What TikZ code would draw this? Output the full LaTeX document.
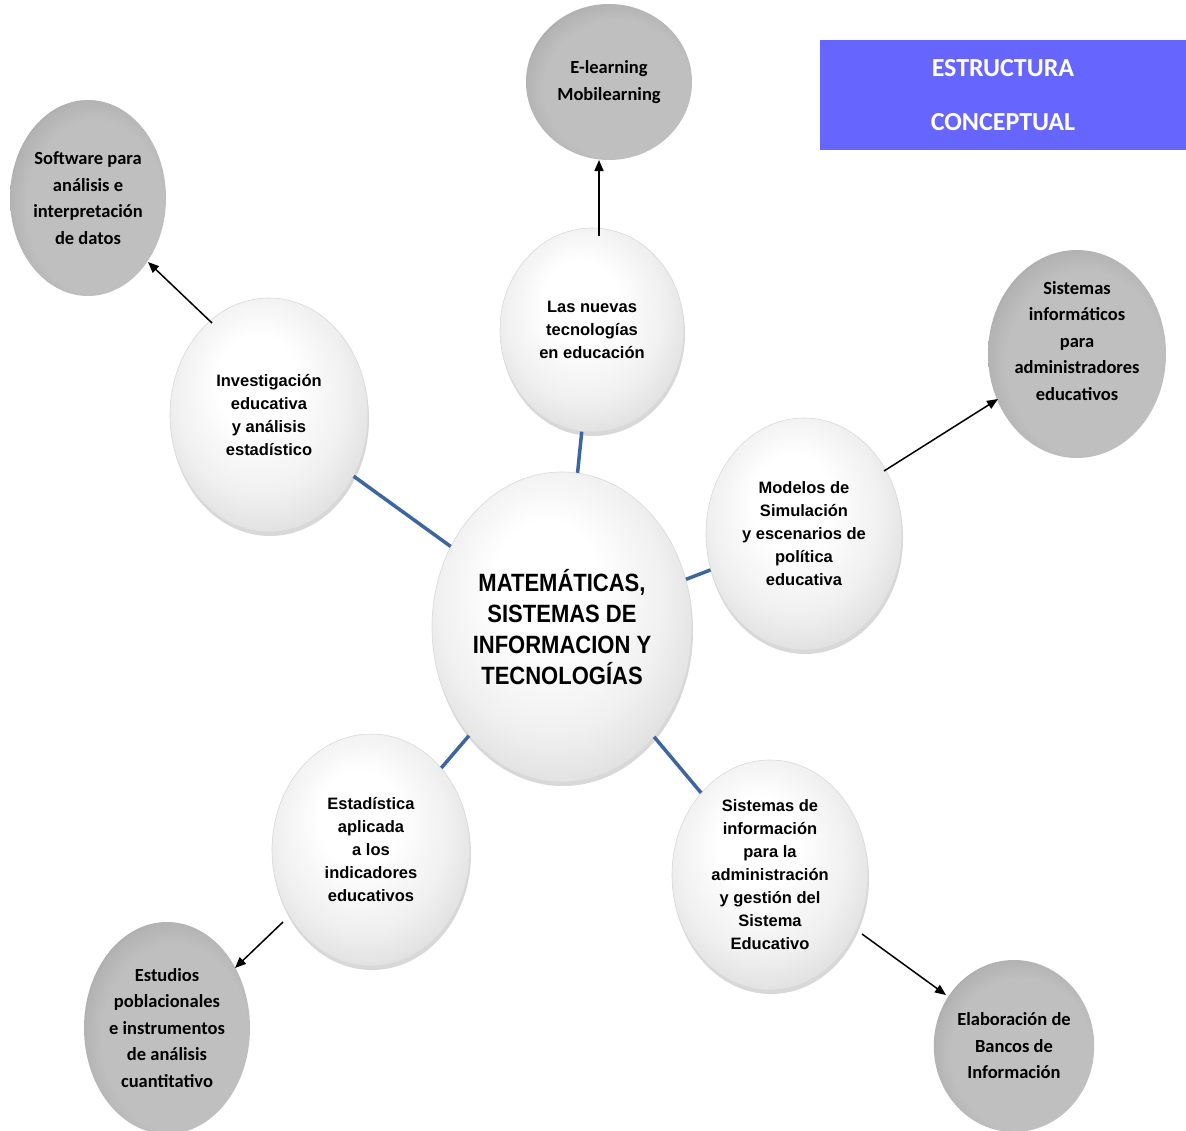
\documentclass[tikz,border=0pt]{standalone}
\usepackage{fontspec}
\setmainfont{Liberation Sans}
\newfontfamily\condfont[FakeStretch=0.88]{Liberation Sans}
\newfontfamily\calfont{Carlito}
\usetikzlibrary{shapes.geometric,shadows,arrows.meta,calc}
\definecolor{linkblue}{HTML}{3D66A0}
\definecolor{titleblue}{HTML}{6666FF}
\pgfdeclareradialshading{whiteball}{\pgfpoint{-4bp}{9bp}}{color(0bp)=(white); color(10bp)=(white); color(22bp)=(black!6); color(29bp)=(black!12); color(34bp)=(black!22); color(45bp)=(black!22)}
\pgfdeclareradialshading{greyball}{\pgfpoint{5bp}{-5bp}}{color(0bp)=(black!25); color(22bp)=(black!25); color(27bp)=(black!30); color(31bp)=(black!48); color(42bp)=(black!52)}
\tikzset{
  wnode/.style={ellipse, shade, shading=whiteball, draw=black!15, line width=0.6pt,
    drop shadow={opacity=0.3, shadow xshift=1pt, shadow yshift=-4pt},
    align=center, inner sep=0pt, font=\fontsize{16.5}{23}\selectfont\bfseries},
  gnode/.style={ellipse, shade, shading=greyball, align=center, inner sep=0pt,
    font=\calfont\fontsize{18.5}{26.5}\selectfont\bfseries},
  link/.style={draw=linkblue, line width=3.5pt},
  arr/.style={draw=black, line width=1.5pt, -{Triangle[length=11pt,width=9pt]}},
}
\begin{document}
\begin{tikzpicture}[x=1pt, y=-1pt]
\fill[white] (0,0) rectangle (1186,1130);
\useasboundingbox (0,0) rectangle (1186,1130);

\node[fill=titleblue, minimum width=366pt, minimum height=110pt, inner sep=0pt, text=white,
  font=\calfont\fontsize{26}{54}\selectfont\bfseries, align=center] (title) at (1003,95) {ESTRUCTURA\\CONCEPTUAL};

\node[wnode, minimum width=260pt, minimum height=310pt, font=\condfont\fontsize{25}{31}\selectfont\bfseries] (core) at (562,627) {MATEMÁTICAS,\\SISTEMAS DE\\INFORMACION Y\\TECNOLOGÍAS};
\node[wnode, minimum width=184pt, minimum height=204pt] (nuevas) at (592,330) {Las nuevas\\tecnologías\\en educación};
\node[wnode, minimum width=198pt, minimum height=234pt] (inv) at (269,415) {Investigación\\educativa\\y análisis\\estadístico};
\node[wnode, minimum width=196pt, minimum height=232pt] (model) at (804,534) {Modelos de\\Simulación\\y escenarios de\\política\\educativa};
\node[wnode, minimum width=198pt, minimum height=232pt] (estad) at (371,850) {Estadística\\aplicada\\a los\\indicadores\\educativos};
\node[wnode, minimum width=196pt, minimum height=230pt] (sinfo) at (770,875) {Sistemas de\\información\\para la\\administración\\y gestión del\\Sistema\\Educativo};

\node[gnode, minimum width=166pt, minimum height=156pt] (elearn) at (609,82) {E-learning\\Mobilearning};
\node[gnode, minimum width=156pt, minimum height=196pt] (soft) at (88,198) {Software para\\análisis e\\interpretación\\de datos};
\node[gnode, minimum width=178pt, minimum height=208pt] (sisinf) at (1077,354) {Sistemas\\informáticos\\para\\administradores\\educativos\\\mbox{}};
\node[gnode, minimum width=166pt, minimum height=212pt] (estud) at (167,1028) {Estudios\\poblacionales\\e instrumentos\\de análisis\\cuantitativo};
\node[gnode, minimum width=156pt, minimum height=172pt] (elab) at (1014,1046) {Elaboración de\\Bancos de\\Información};

\draw[link] (core) -- (nuevas);
\draw[link] (core) -- (inv);
\draw[link] (core) -- (model);
\draw[link] (core) -- (estad);
\draw[link] (core) -- (sinfo);

\draw[arr] ($(nuevas.center)+(7,-94)$) -- ($(elearn.center)+(-10,78)$);
\draw[arr] ($(inv.center)+(-57,-92)$) -- ($(soft.center)+(60,64)$);
\draw[arr] ($(model.center)+(80,-63)$) -- ($(sisinf.center)+(-79,45)$);
\draw[arr] ($(estad.center)+(-88,72)$) -- ($(estud.center)+(68,-60)$);
\draw[arr] ($(sinfo.center)+(92,59)$) -- ($(elab.center)+(-68,-51)$);
\end{tikzpicture}
\end{document}
